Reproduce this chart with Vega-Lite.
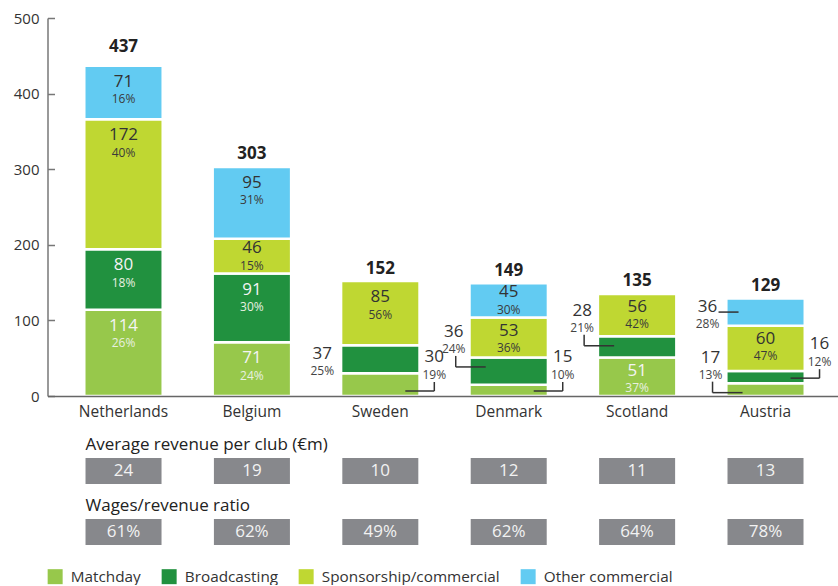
{
  "$schema": "https://vega.github.io/schema/vega-lite/v6.json",
  "padding": {"left": 12.5, "top": 11, "right": 0, "bottom": 0},
  "spacing": 13,
  "background": "white",
  "config": {
    "font": "Open Sans",
    "view": {"stroke": null},
    "legend": {
      "orient": "bottom",
      "direction": "horizontal",
      "symbolType": "square",
      "symbolSize": 225,
      "symbolStrokeWidth": 0,
      "labelFontSize": 15.3,
      "labelColor": "#333333",
      "labelOffset": 8,
      "labelLimit": 400,
      "columnPadding": 20,
      "padding": 0,
      "offset": 24
    }
  },
  "resolve": {"scale": {"x": "independent", "color": "shared"}, "legend": {"color": "shared"}},
  "vconcat": [
    {
      "width": 790,
      "height": 378,
      "data": {
        "values": [
          {"country": "Netherlands", "cat": "Matchday", "value": 114, "pct": 0.26},
          {"country": "Netherlands", "cat": "Broadcasting", "value": 80, "pct": 0.18},
          {"country": "Netherlands", "cat": "Sponsorship/commercial", "value": 172, "pct": 0.40},
          {"country": "Netherlands", "cat": "Other commercial", "value": 71, "pct": 0.16},
          {"country": "Belgium", "cat": "Matchday", "value": 71, "pct": 0.24},
          {"country": "Belgium", "cat": "Broadcasting", "value": 91, "pct": 0.30},
          {"country": "Belgium", "cat": "Sponsorship/commercial", "value": 46, "pct": 0.15},
          {"country": "Belgium", "cat": "Other commercial", "value": 95, "pct": 0.31},
          {"country": "Sweden", "cat": "Matchday", "value": 30, "pct": 0.19},
          {"country": "Sweden", "cat": "Broadcasting", "value": 37, "pct": 0.25},
          {"country": "Sweden", "cat": "Sponsorship/commercial", "value": 85, "pct": 0.56},
          {"country": "Denmark", "cat": "Matchday", "value": 15, "pct": 0.10},
          {"country": "Denmark", "cat": "Broadcasting", "value": 36, "pct": 0.24},
          {"country": "Denmark", "cat": "Sponsorship/commercial", "value": 53, "pct": 0.36},
          {"country": "Denmark", "cat": "Other commercial", "value": 45, "pct": 0.30},
          {"country": "Scotland", "cat": "Matchday", "value": 51, "pct": 0.37},
          {"country": "Scotland", "cat": "Broadcasting", "value": 28, "pct": 0.21},
          {"country": "Scotland", "cat": "Sponsorship/commercial", "value": 56, "pct": 0.42},
          {"country": "Austria", "cat": "Matchday", "value": 17, "pct": 0.13},
          {"country": "Austria", "cat": "Broadcasting", "value": 16, "pct": 0.12},
          {"country": "Austria", "cat": "Sponsorship/commercial", "value": 60, "pct": 0.47},
          {"country": "Austria", "cat": "Other commercial", "value": 36, "pct": 0.28}
        ]
      },
      "transform": [
        {"calculate": "indexof(['Matchday','Broadcasting','Sponsorship/commercial','Other commercial'], datum.cat)", "as": "ord"},
        {"calculate": "datum.country + '|' + datum.cat", "as": "key"},
        {"calculate": "indexof(['Sweden|Matchday','Sweden|Broadcasting','Denmark|Matchday','Denmark|Broadcasting','Scotland|Broadcasting','Austria|Matchday','Austria|Broadcasting','Austria|Other commercial'], datum.key) < 0", "as": "inside"},
        {"stack": "value", "groupby": ["country"], "sort": [{"field": "ord", "order": "ascending"}], "as": ["y0", "y1"]},
        {"calculate": "(datum.y0 + datum.y1) / 2", "as": "mid"}
      ],
      "encoding": {
        "x": {
          "field": "country",
          "type": "nominal",
          "sort": ["Netherlands", "Belgium", "Sweden", "Denmark", "Scotland", "Austria"],
          "scale": {"paddingInner": 0.389, "paddingOuter": 0.2706, "align": 0.529},
          "axis": {
            "title": null,
            "labelAngle": 0,
            "ticks": false,
            "domainColor": "#666666",
            "domainWidth": 1.5,
            "labelFontSize": 15.5,
            "labelColor": "#333333",
            "labelPadding": 8,
            "minExtent": 27,
            "zindex": 1
          }
        }
      },
      "layer": [
        {
          "mark": {"type": "bar", "stroke": "white", "strokeWidth": 2.5},
          "encoding": {
            "y": {
              "field": "y0",
              "type": "quantitative",
              "title": null,
              "scale": {"domain": [0, 500], "nice": false},
              "axis": {
                "values": [0, 100, 200, 300, 400, 500],
                "grid": false,
                "tickSize": -7,
                "labelPadding": 15.5,
                "domainColor": "#777777",
                "tickColor": "#777777",
                "domainWidth": 1.5,
                "tickWidth": 1.5,
                "labelFontSize": 15,
                "labelColor": "#333333"
              }
            },
            "y2": {"field": "y1"},
            "color": {
              "field": "cat",
              "type": "nominal",
              "title": null,
              "scale": {
                "domain": ["Matchday", "Broadcasting", "Sponsorship/commercial", "Other commercial"],
                "range": ["#97c84b", "#21913f", "#bfd732", "#62cbf2"]
              }
            }
          }
        },
        {
          "transform": [{"filter": "datum.inside && datum.value >= 70"}],
          "mark": {"type": "text", "fontSize": 17, "dy": 16, "baseline": "middle"},
          "encoding": {
            "y": {"field": "y1", "type": "quantitative", "title": null},
            "text": {"field": "value", "type": "quantitative"},
            "color": {"condition": {"test": "datum.cat == 'Matchday' || datum.cat == 'Broadcasting'", "value": "#f4f4f4"}, "value": "#333333"}
          }
        },
        {
          "transform": [{"filter": "datum.inside && datum.value >= 70"}],
          "mark": {"type": "text", "fontSize": 12, "dy": 33.5, "baseline": "middle"},
          "encoding": {
            "y": {"field": "y1", "type": "quantitative", "title": null},
            "text": {"field": "pct", "type": "quantitative", "format": ".0%"},
            "color": {"condition": {"test": "datum.cat == 'Matchday' || datum.cat == 'Broadcasting'", "value": "#e8f0e0"}, "value": "#3a3a3a"}
          }
        },
        {
          "transform": [{"filter": "datum.inside && datum.value >= 50 && datum.value < 70"}],
          "mark": {"type": "text", "fontSize": 17, "dy": 13.5, "baseline": "middle"},
          "encoding": {
            "y": {"field": "y1", "type": "quantitative", "title": null},
            "text": {"field": "value", "type": "quantitative"},
            "color": {"condition": {"test": "datum.cat == 'Matchday' || datum.cat == 'Broadcasting'", "value": "#f4f4f4"}, "value": "#333333"}
          }
        },
        {
          "transform": [{"filter": "datum.inside && datum.value >= 50 && datum.value < 70"}],
          "mark": {"type": "text", "fontSize": 12, "dy": 30.5, "baseline": "middle"},
          "encoding": {
            "y": {"field": "y1", "type": "quantitative", "title": null},
            "text": {"field": "pct", "type": "quantitative", "format": ".0%"},
            "color": {"condition": {"test": "datum.cat == 'Matchday' || datum.cat == 'Broadcasting'", "value": "#e8f0e0"}, "value": "#3a3a3a"}
          }
        },
        {
          "transform": [{"filter": "datum.inside && datum.value < 50"}],
          "mark": {"type": "text", "fontSize": 17, "dy": -8, "baseline": "middle"},
          "encoding": {
            "y": {"field": "mid", "type": "quantitative", "title": null},
            "text": {"field": "value", "type": "quantitative"},
            "color": {"condition": {"test": "datum.cat == 'Matchday' || datum.cat == 'Broadcasting'", "value": "#f4f4f4"}, "value": "#333333"}
          }
        },
        {
          "transform": [{"filter": "datum.inside && datum.value < 50"}],
          "mark": {"type": "text", "fontSize": 12, "dy": 10, "baseline": "middle"},
          "encoding": {
            "y": {"field": "mid", "type": "quantitative", "title": null},
            "text": {"field": "pct", "type": "quantitative", "format": ".0%"},
            "color": {"condition": {"test": "datum.cat == 'Matchday' || datum.cat == 'Broadcasting'", "value": "#e8f0e0"}, "value": "#3a3a3a"}
          }
        },
        {
          "transform": [{"aggregate": [{"op": "sum", "field": "value", "as": "total"}], "groupby": ["country"]}, {"filter": "datum.total < 400"}],
          "mark": {"type": "text", "fontSize": 17, "fontWeight": "bold", "dy": -12.5, "baseline": "middle", "color": "#222222"},
          "encoding": {
            "y": {"field": "total", "type": "quantitative", "title": null},
            "text": {"field": "total", "type": "quantitative"}
          }
        },
        {
          "transform": [{"aggregate": [{"op": "sum", "field": "value", "as": "total"}], "groupby": ["country"]}, {"filter": "datum.total >= 400"}],
          "mark": {"type": "text", "fontSize": 17, "fontWeight": "bold", "dy": -19, "baseline": "middle", "color": "#222222"},
          "encoding": {
            "y": {"field": "total", "type": "quantitative", "title": null},
            "text": {"field": "total", "type": "quantitative"}
          }
        },
        {
          "transform": [{"filter": "indexof(['Sweden|Matchday','Denmark|Matchday','Austria|Broadcasting'], datum.key) >= 0"}],
          "mark": {"type": "text", "fontSize": 17, "dx": 54, "dy": -39, "baseline": "middle", "color": "#333333"},
          "encoding": {
            "y": {"field": "y0", "type": "quantitative", "title": null},
            "text": {"field": "value", "type": "quantitative"}
          }
        },
        {
          "transform": [{"filter": "indexof(['Sweden|Matchday','Denmark|Matchday','Austria|Broadcasting'], datum.key) >= 0"}],
          "mark": {"type": "text", "fontSize": 12, "dx": 54, "dy": -21, "baseline": "middle", "color": "#444444"},
          "encoding": {
            "y": {"field": "y0", "type": "quantitative", "title": null},
            "text": {"field": "pct", "type": "quantitative", "format": ".0%"}
          }
        },
        {
          "transform": [{"filter": "indexof(['Sweden|Matchday','Denmark|Matchday','Austria|Broadcasting'], datum.key) >= 0"}],
          "mark": {"type": "rule", "color": "#333333", "strokeWidth": 1.5, "xOffset": 25, "x2Offset": 54, "yOffset": -5},
          "encoding": {
            "x2": {"field": "country"},
            "y": {"field": "y0", "type": "quantitative", "title": null}
          }
        },
        {
          "transform": [{"filter": "indexof(['Sweden|Matchday','Denmark|Matchday','Austria|Broadcasting'], datum.key) >= 0"}],
          "mark": {"type": "rule", "color": "#333333", "strokeWidth": 1.5, "xOffset": 54, "yOffset": -5, "y2Offset": -14},
          "encoding": {
            "y": {"field": "y0", "type": "quantitative", "title": null},
            "y2": {"field": "y0"}
          }
        },
        {
          "transform": [{"filter": "indexof(['Denmark|Broadcasting','Scotland|Broadcasting','Austria|Matchday'], datum.key) >= 0"}],
          "mark": {"type": "text", "fontSize": 17, "dx": -55, "dy": -25.5, "baseline": "middle", "color": "#333333"},
          "encoding": {
            "y": {"field": "y1", "type": "quantitative", "title": null},
            "text": {"field": "value", "type": "quantitative"}
          }
        },
        {
          "transform": [{"filter": "indexof(['Denmark|Broadcasting','Scotland|Broadcasting','Austria|Matchday'], datum.key) >= 0"}],
          "mark": {"type": "text", "fontSize": 12, "dx": -55, "dy": -8.5, "baseline": "middle", "color": "#444444"},
          "encoding": {
            "y": {"field": "y1", "type": "quantitative", "title": null},
            "text": {"field": "pct", "type": "quantitative", "format": ".0%"}
          }
        },
        {
          "transform": [{"filter": "indexof(['Denmark|Broadcasting','Scotland|Broadcasting','Austria|Matchday'], datum.key) >= 0"}],
          "mark": {"type": "rule", "color": "#333333", "strokeWidth": 1.5, "xOffset": -53, "x2Offset": -23, "yOffset": 9.5},
          "encoding": {
            "x2": {"field": "country"},
            "y": {"field": "y1", "type": "quantitative", "title": null}
          }
        },
        {
          "transform": [{"filter": "indexof(['Denmark|Broadcasting','Scotland|Broadcasting','Austria|Matchday'], datum.key) >= 0"}],
          "mark": {"type": "rule", "color": "#333333", "strokeWidth": 1.5, "xOffset": -53, "yOffset": 9.5, "y2Offset": -1.5},
          "encoding": {
            "y": {"field": "y1", "type": "quantitative", "title": null},
            "y2": {"field": "y1"}
          }
        },
        {
          "transform": [{"filter": "indexof(['Sweden|Broadcasting','Austria|Other commercial'], datum.key) >= 0"}],
          "mark": {"type": "text", "fontSize": 17, "dx": -58, "dy": -5.5, "baseline": "middle", "color": "#333333"},
          "encoding": {
            "y": {"field": "mid", "type": "quantitative", "title": null},
            "text": {"field": "value", "type": "quantitative"}
          }
        },
        {
          "transform": [{"filter": "indexof(['Sweden|Broadcasting','Austria|Other commercial'], datum.key) >= 0"}],
          "mark": {"type": "text", "fontSize": 12, "dx": -58, "dy": 12, "baseline": "middle", "color": "#444444"},
          "encoding": {
            "y": {"field": "mid", "type": "quantitative", "title": null},
            "text": {"field": "pct", "type": "quantitative", "format": ".0%"}
          }
        },
        {
          "transform": [{"filter": "datum.key == 'Austria|Other commercial'"}],
          "mark": {"type": "rule", "color": "#333333", "strokeWidth": 1.5, "xOffset": -47, "x2Offset": -27},
          "encoding": {
            "x2": {"field": "country"},
            "y": {"field": "mid", "type": "quantitative", "title": null}
          }
        }
      ]
    },
    {
      "width": 790,
      "height": 26,
      "title": {"text": "Average revenue per club (€m)", "anchor": "start", "dx": 38, "fontSize": 17, "fontWeight": "normal", "color": "#222222", "offset": 4},
      "data": {
        "values": [
          {"country": "Netherlands", "avg": 24},
          {"country": "Belgium", "avg": 19},
          {"country": "Sweden", "avg": 10},
          {"country": "Denmark", "avg": 12},
          {"country": "Scotland", "avg": 11},
          {"country": "Austria", "avg": 13}
        ]
      },
      "encoding": {
        "x": {
          "field": "country",
          "type": "nominal",
          "sort": ["Netherlands", "Belgium", "Sweden", "Denmark", "Scotland", "Austria"],
          "scale": {"paddingInner": 0.408, "paddingOuter": 0.2804, "align": 0.528},
          "axis": null
        }
      },
      "layer": [
        {"mark": {"type": "rect", "color": "#87888c"}},
        {"mark": {"type": "text", "fontSize": 17, "color": "#f2f2f2", "baseline": "middle"}, "encoding": {"text": {"field": "avg", "type": "quantitative"}}}
      ]
    },
    {
      "width": 790,
      "height": 26,
      "title": {"text": "Wages/revenue ratio", "anchor": "start", "dx": 38, "fontSize": 17, "fontWeight": "normal", "color": "#222222", "offset": 4},
      "data": {
        "values": [
          {"country": "Netherlands", "ratio": 0.61},
          {"country": "Belgium", "ratio": 0.62},
          {"country": "Sweden", "ratio": 0.49},
          {"country": "Denmark", "ratio": 0.62},
          {"country": "Scotland", "ratio": 0.64},
          {"country": "Austria", "ratio": 0.78}
        ]
      },
      "encoding": {
        "x": {
          "field": "country",
          "type": "nominal",
          "sort": ["Netherlands", "Belgium", "Sweden", "Denmark", "Scotland", "Austria"],
          "scale": {"paddingInner": 0.408, "paddingOuter": 0.2804, "align": 0.528},
          "axis": null
        }
      },
      "layer": [
        {"mark": {"type": "rect", "color": "#87888c"}},
        {"mark": {"type": "text", "fontSize": 17, "color": "#f2f2f2", "baseline": "middle"}, "encoding": {"text": {"field": "ratio", "type": "quantitative", "format": ".0%"}}}
      ]
    }
  ]
}
